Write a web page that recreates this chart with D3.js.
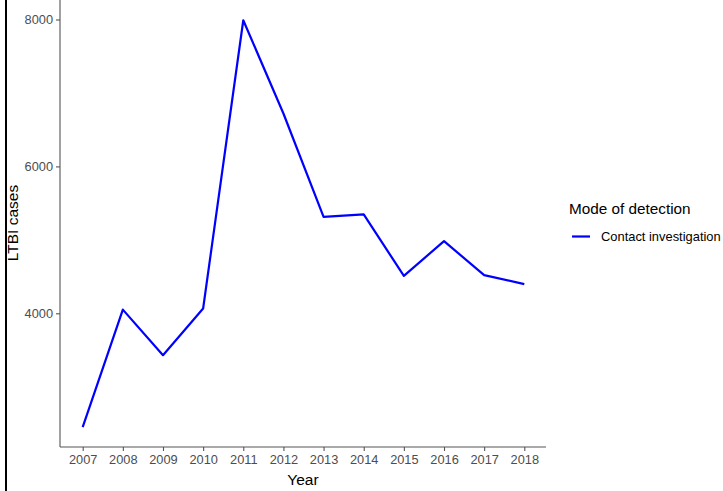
<!DOCTYPE html>
<html><head><meta charset="utf-8">
<script src="https://cdn.jsdelivr.net/npm/d3@7"></script>
<style>body{margin:0;background:#fff}svg{display:block}</style>
</head><body>
<svg id="c" width="723" height="491"></svg>
<script>
const years = [2007,2008,2009,2010,2011,2012,2013,2014,2015,2016,2017,2018];
const cases = [2450,4050,3430,4065,7990,6720,5313,5346,4510,4982,4520,4397];
const yTicks = [4000,6000,8000];
const seriesName = "Contact investigation";
const legendTitle = "Mode of detection";

const svg = d3.select("#c");
const font = "'Liberation Sans', Arial, sans-serif";
const x = d3.scaleLinear().domain([2007,2018]).range([82.7,524.3]);
const y = d3.scaleLinear().domain([4000,8000]).range([313.3,19.5]);
const axisCol = "#555";
const tickCol = "#4D4D4D";

// left frame line
svg.append("line").attr("x1",6).attr("x2",6).attr("y1",0).attr("y2",491)
  .attr("stroke","#000").attr("stroke-width",2);

// Y axis
const yAx = svg.append("g").attr("transform","translate(60,0)")
  .call(d3.axisLeft(y).tickValues(yTicks).tickSize(4).tickPadding(3).tickFormat(d3.format("d")));
yAx.select(".domain").remove();
yAx.append("line").attr("x1",0).attr("x2",0).attr("y1",0).attr("y2",447).attr("stroke",axisCol).attr("stroke-width",1.1);
yAx.selectAll(".tick line").attr("stroke",axisCol).attr("stroke-width",1.1);
yAx.selectAll(".tick text").attr("fill",tickCol).style("font-family",font).style("font-size","12.8px");

// X axis
const xAx = svg.append("g").attr("transform","translate(0,447)")
  .call(d3.axisBottom(x).tickValues(years).tickSize(4).tickPadding(4).tickFormat(d3.format("d")));
xAx.select(".domain").remove();
xAx.append("line").attr("x1",60).attr("x2",546).attr("y1",0).attr("y2",0).attr("stroke",axisCol).attr("stroke-width",1.1);
xAx.selectAll(".tick line").attr("stroke",axisCol).attr("stroke-width",1.1);
xAx.selectAll(".tick text").attr("fill",tickCol).style("font-family",font).style("font-size","12.8px");

// axis titles
svg.append("text").attr("x",303).attr("y",485).attr("text-anchor","middle")
  .style("font-family",font).style("font-size","15.5px").attr("fill","#000").text("Year");
svg.append("text").attr("transform","translate(18,223) rotate(-90)").attr("text-anchor","middle")
  .style("font-family",font).style("font-size","15.5px").attr("fill","#000").text("LTBI cases");

// line
const line = d3.line().x((d,i)=>x(years[i])).y(d=>y(d));
svg.append("path").datum(cases).attr("d",line).attr("fill","none")
  .attr("stroke","#0000FF").attr("stroke-width",2.2).attr("stroke-linejoin","round");

// legend
svg.append("text").attr("x",569).attr("y",214).style("font-family",font).style("font-size","15.3px")
  .attr("fill","#000").text(legendTitle);
svg.append("line").attr("x1",572).attr("x2",590).attr("y1",236.5).attr("y2",236.5)
  .attr("stroke","#0000FF").attr("stroke-width",2.2);
svg.append("text").attr("x",601).attr("y",241).style("font-family",font).style("font-size","12.9px")
  .attr("fill","#000").text(seriesName);
</script>
</body></html>
